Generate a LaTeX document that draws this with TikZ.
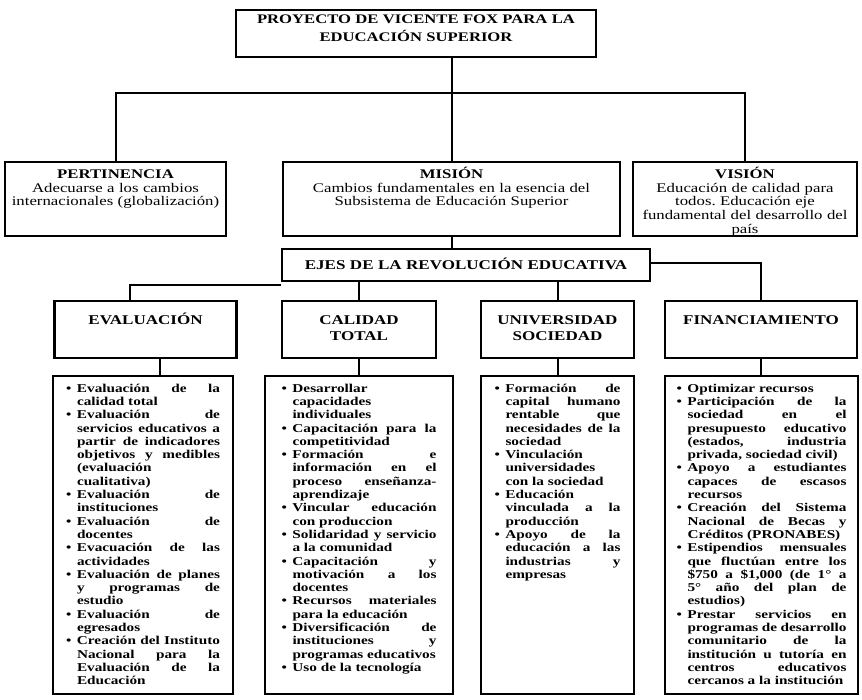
\documentclass[tikz,border=0pt]{standalone}
\usepackage{fontspec}
\setmainfont[FakeStretch=1.27]{Liberation Serif}
\usetikzlibrary{positioning}
\tikzset{
box/.style={draw, line width=2.2pt, anchor=north, inner xsep=4pt, inner ysep=0pt, align=center},
linea/.style={line width=2pt},
cima/.style={box, font=\fontsize{13.1}{18}\selectfont\bfseries, text height=13pt, text depth=34pt},
medio/.style={box, font=\fontsize{13.2}{13.9}\selectfont, text height=16pt, text depth=58pt},
cabeza/.style={box, font=\fontsize{13.4}{16}\selectfont\bfseries, text height=23pt, text depth=34pt},
lista/.style={draw, line width=2.2pt, anchor=north, inner ysep=0pt, font=\fontsize{12}{13.3}\selectfont\bfseries, text height=16pt, text depth=302pt},
}
\newcommand{\itm}{\par\noindent\hangindent=11pt\hangafter=1\makebox[11pt][l]{\textbullet}}
\newcommand{\brk}{\linebreak}
\newcommand{\columna}[2]{\begin{minipage}[t]{#1}#2\end{minipage}}
\tolerance=10000 \hbadness=10000 \hyphenpenalty=10000
\frenchspacing

\begin{document}
\begin{tikzpicture}[x=1pt, y=-1pt]
    \useasboundingbox (0,0) rectangle (862,699);
    \node[cima, text width=352pt] (proy) at (416,9) {PROYECTO DE VICENTE FOX PARA LA\\ EDUCACIÓN SUPERIOR};
    \node[medio, text width=213pt] (pert) at (115.5,161) {\textbf{PERTINENCIA}\\ Adecuarse a los cambios\\ internacionales (globalización)};
    \node[medio, text width=329pt] (mis) at (451.5,161) {\textbf{MISIÓN}\\ Cambios fundamentales en la esencia del\\ Subsistema de Educación Superior};
    \node[medio, text width=216pt] (vis) at (745,161) {\textbf{VISIÓN}\\ Educación de calidad para\\ todos. Educación eje\\ fundamental del desarrollo del\\ país};
    \node[cabeza, text width=360pt, text height=20pt, text depth=12pt] (ejes) at (466,248) {EJES DE LA REVOLUCIÓN EDUCATIVA};
    \node[cabeza, text width=174pt] (ev) at (145.5,300) {EVALUACIÓN};
    \node[cabeza, text width=146pt] (ct) at (359,300) {CALIDAD\\ TOTAL};
    \node[cabeza, text width=145pt] (us) at (557.5,300) {UNIVERSIDAD\\ SOCIEDAD};
    \node[cabeza, text width=184pt] (fin) at (761,300) {FINANCIAMIENTO};
    \node[lista, inner xsep=13pt] (lev) at (143,375) {\columna{154pt}{%
        \itm Evaluación de la \brk calidad total
        \itm Evaluación de \brk servicios educativos a \brk partir de indicadores \brk objetivos y medibles \brk (evaluación \brk cualitativa)
        \itm Evaluación de \brk instituciones
        \itm Evaluación de \brk docentes
        \itm Evacuación de las \brk actividades
        \itm Evaluación de planes \brk y programas de \brk estudio
        \itm Evaluación de \brk egresados
        \itm Creación del Instituto \brk Nacional para la \brk Evaluación de la \brk Educación}};
    \node[lista, inner xsep=16.5pt] (lct) at (359,375) {\columna{155pt}{%
        \itm Desarrollar \brk capacidades \brk individuales
        \itm Capacitación para la \brk competitividad
        \itm Formación e \brk información en el \brk proceso enseñanza-\brk aprendizaje
        \itm Vincular educación \brk con produccion
        \itm Solidaridad y servicio \brk a la comunidad
        \itm Capacitación y \brk motivación a los \brk docentes
        \itm Recursos materiales \brk para la educación
        \itm Diversificación de \brk instituciones y \brk programas educativos
        \itm Uso de la tecnología}};
    \node[lista, inner xsep=13.5pt] (lus) at (557.5,375) {\columna{126pt}{%
        \itm Formación de \brk capital humano \brk rentable que \brk necesidades de la \brk sociedad
        \itm Vinculación \brk universidades \brk con la sociedad
        \itm Educación \brk vinculada a la \brk producción
        \itm Apoyo de la \brk educación a las \brk industrias y \brk empresas}};
    \node[lista, inner xsep=11.5pt] (lfin) at (761.5,375) {\columna{170pt}{%
        \itm Optimizar recursos
        \itm Participación de la \brk sociedad en el \brk presupuesto educativo \brk (estados, industria \brk privada, sociedad civil)
        \itm Apoyo a estudiantes \brk capaces de escasos \brk recursos
        \itm Creación del Sistema \brk Nacional de Becas y \brk Créditos (PRONABES)
        \itm Estipendios mensuales \brk que fluctúan entre los \brk \$750 a \$1,000 (de 1° a \brk 5° año del plan de \brk estudios)
        \itm Prestar servicios en \brk programas de desarrollo \brk comunitario de la \brk institución u tutoría en \brk centros educativos \brk cercanos a la institución}};
    \coordinate (bus) at (451.5,93);
    \draw[linea]
        (proy.south -| mis.north) -- (mis.north)
        (pert.north) |- (bus) -| (vis.north)
        (mis.south) -- (mis.south |- ejes.north)
        ([yshift=-3pt]ejes.south west) -| ([xshift=-16pt]ev.north)
        (ejes.south -| ct.north) -- (ct.north)
        (ejes.south -| us.north) -- (us.north)
        ([yshift=2pt]ejes.east) -| (fin.north)
        ([xshift=14pt]ev.south) -- ([xshift=14pt]ev.south |- lev.north)
        (ct.south) -- (lct.north)
        (us.south) -- (us.south |- lus.north)
        (fin.south) -- (fin.south |- lfin.north)
        ;
\end{tikzpicture}
\end{document}
